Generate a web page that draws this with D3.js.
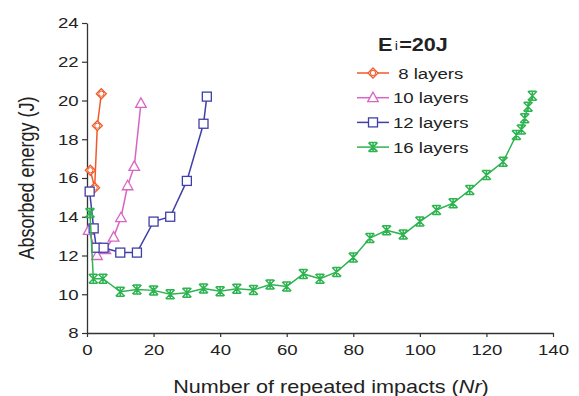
<!DOCTYPE html>
<html>
<head>
<meta charset="utf-8">
<script src="https://cdn.jsdelivr.net/npm/d3@7"></script>
<style>
  body { margin: 0; background: #fff; }
  svg text { font-family: "Liberation Sans", Arial, sans-serif; fill: #222; }
</style>
</head>
<body>
<svg id="chart" width="579" height="396"></svg>
<script>
// data: [Nr, absorbed energy]
const layers8 = [[1, 16.4], [2.3, 15.5], [3.1, 18.7], [4.3, 20.35]];
const layers10 = [[0.5, 13.3], [3, 12.0], [5.5, 12.3], [8, 12.95], [10.2, 13.95],
    [12.2, 15.6], [14.2, 16.6], [16.2, 19.85]];
const layers12 = [[0.8, 15.3], [2, 13.4], [2.8, 12.4], [5, 12.4], [10, 12.15], [15, 12.15],
    [20, 13.75], [25, 14.0], [30, 15.85], [35, 18.8], [36, 20.2]];
const layers16 = [[0.9, 14.2], [1.9, 10.8], [4.8, 10.8], [10, 10.13], [15, 10.25], [20, 10.2],
    [25, 10.0], [30, 10.08], [35, 10.3], [40, 10.15], [45, 10.28], [50, 10.22], [55, 10.5],
    [60, 10.4], [65, 11.05], [70, 10.8], [75, 11.15], [80, 11.9], [85, 12.9], [90, 13.3],
    [95, 13.08], [100, 13.75], [105, 14.35], [110, 14.7], [115, 15.38], [120, 16.15],
    [125, 16.84], [129, 18.22], [130.5, 18.5], [131.5, 19.08], [132.5, 19.68], [133.8, 20.25]];

const xTicks = [0, 20, 40, 60, 80, 100, 120, 140];
const yTicks = [8, 10, 12, 14, 16, 18, 20, 22, 24];

const series = [
    { name: ' 8 layers', data: layers8, color: '#f05a2a', marker: 'diamond' },
    { name: '10 layers', data: layers10, color: '#d865c4', marker: 'triangle' },
    { name: '12 layers', data: layers12, color: '#3f3fa8', marker: 'square' },
    { name: '16 layers', data: layers16, color: '#2db350', marker: 'star' }
];

// the source image is stretched sideways, so text gets a horizontal scale
const STRETCH = 1.2;

const svg = d3.select('#chart');
const margin = { left: 87, top: 23, right: 26, bottom: 63 };
const W = 579, H = 396;

const x = d3.scaleLinear().domain([0, 140]).range([margin.left, W - margin.right]);
const y = d3.scaleLinear().domain([8, 24]).range([H - margin.bottom, margin.top]);

// axes
const xAxis = svg.append('g')
    .attr('transform', `translate(0,${y(8)})`)
    .call(d3.axisBottom(x).tickValues(xTicks).tickSize(4).tickSizeOuter(0).tickPadding(7));
const yAxis = svg.append('g')
    .attr('transform', `translate(${x(0)},0)`)
    .call(d3.axisLeft(y).tickValues(yTicks).tickSize(5).tickSizeOuter(0).tickPadding(3));

[xAxis, yAxis].forEach(ax => {
    ax.select('.domain').attr('stroke', '#333').attr('stroke-width', 1.3);
    ax.selectAll('.tick line').attr('stroke', '#333').attr('stroke-width', 1.2);
    ax.selectAll('.tick text')
        .style('font-size', '15.5px')
        .attr('fill', '#222')
        .attr('transform', `scale(${STRETCH},1)`);
});
yAxis.selectAll('.tick text').attr('x', -7);

// axis titles
svg.append('text')
    .attr('transform', `translate(27,${(y(8) + y(24)) / 2}) rotate(-90) scale(1,${STRETCH})`)
    .attr('text-anchor', 'middle')
    .attr('y', 6)
    .style('font-size', '18px')
    .text('Absorbed energy (J)');

const xt = svg.append('text')
    .attr('transform', `translate(331,393) scale(${STRETCH},1)`)
    .attr('text-anchor', 'middle')
    .style('font-size', '18px');
xt.append('tspan').text('Number of repeated impacts (');
xt.append('tspan').style('font-style', 'italic').text('Nr');
xt.append('tspan').text(')');

// markers
const drawMarker = (g, type, color) => {
    if (type === 'diamond') {
        g.append('path').attr('d', 'M0,-5L5,0L0,5L-5,0Z')
            .attr('fill', '#fff').attr('stroke', color).attr('stroke-width', 1.3);
        g.append('circle').attr('r', 2.6)
            .attr('fill', 'none').attr('stroke', color).attr('stroke-width', 1);
    } else if (type === 'triangle') {
        g.append('path').attr('d', 'M0,-5.5L5.3,4L-5.3,4Z')
            .attr('fill', '#fff').attr('stroke', color).attr('stroke-width', 1.3);
    } else if (type === 'square') {
        g.append('rect').attr('x', -4.5).attr('y', -4.5).attr('width', 9).attr('height', 9)
            .attr('fill', '#fff').attr('stroke', color).attr('stroke-width', 1.3);
    } else {
        g.append('path').attr('d', 'M-4.5,-4.5L4.5,4.5M-4.5,4.5L4.5,-4.5M0,-5L0,5M-4,-4.5L4,-4.5M-4,4.5L4,4.5')
            .attr('fill', 'none').attr('stroke', color).attr('stroke-width', 1.5);
    }
};

const line = d3.line().x(d => x(d[0])).y(d => y(d[1]));

series.forEach(s => {
    const g = svg.append('g');
    g.append('path')
        .attr('d', line(s.data))
        .attr('fill', 'none')
        .attr('stroke', s.color)
        .attr('stroke-width', 1.5);
    g.selectAll('g.pt')
        .data(s.data)
        .join('g')
        .attr('class', 'pt')
        .attr('transform', d => `translate(${x(d[0])},${y(d[1])})`)
        .each((d, i, n) => drawMarker(d3.select(n[i]), s.marker, s.color));
});

// legend
const leg = svg.append('g').attr('transform', 'translate(357,0)');
const lt = leg.append('text')
    .attr('transform', `translate(21,51) scale(${STRETCH},1)`)
    .style('font-size', '18px')
    .style('font-weight', 'bold')
    .attr('fill', '#111');
lt.append('tspan').text('E');
lt.append('tspan').style('font-size', '12px').style('font-weight', 'normal').attr('dx', 2).attr('dy', -1).text('i');
lt.append('tspan').attr('dy', 1).attr('dx', 1).text('=20J');

series.forEach((s, i) => {
    const yy = 73 + i * 24.7;
    const item = leg.append('g').attr('transform', `translate(0,${yy})`);
    item.append('line').attr('x1', 0).attr('x2', 32).attr('stroke', s.color).attr('stroke-width', 1.5);
    const m = item.append('g').attr('transform', 'translate(16,0)');
    drawMarker(m, s.marker, s.color);
    item.append('text')
        .attr('transform', `translate(36,5.5) scale(${STRETCH},1)`)
        .style('font-size', '15.5px')
        .attr('xml:space', 'preserve')
        .text(s.name);
});
</script>
</body>
</html>
